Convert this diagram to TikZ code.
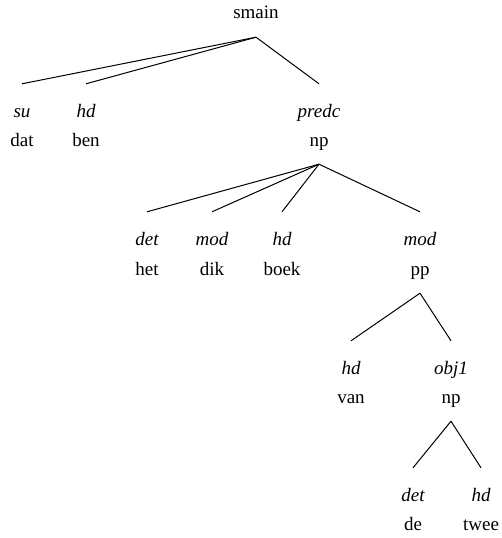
\documentclass[tikz,border=0pt]{standalone}
\usepackage{fontspec}
\setmainfont{Liberation Serif}
\usetikzlibrary{positioning}
\newcommand{\treefont}{\fontsize{19}{22}\selectfont}
\tikzset{
  lab/.style={font=\treefont\itshape, anchor=base, inner sep=0pt,
    text height=33pt, text depth=0pt},
  wrd/.style={font=\treefont, anchor=base, inner sep=0pt,
    text height=10pt, text depth=18pt},
  branch/.style={draw, line width=1pt},
}
\begin{document}
\begin{tikzpicture}[x=1pt, y=-1pt]
  \useasboundingbox (0,0) rectangle (501,538);

  % Root
  \node[wrd] (smain) at (256,19) {smain};

  % First level
  \node[lab] (lsu) at (22,117) {su};
  \node[wrd] (wdat) at (22,146) {dat};
  \node[lab] (lhdA) at (86,117) {hd};
  \node[wrd] (wben) at (86,146) {ben};
  \node[lab] (lpredc) at (319,117) {predc};
  \node[wrd] (wnpA) at (319,146) {np};

  % Second level, below np
  \node[lab] (ldet) at (147,245) {det};
  \node[wrd] (whet) at (147,275) {het};
  \node[lab] (lmodA) at (212,245) {mod};
  \node[wrd] (wdik) at (212,275) {dik};
  \node[lab] (lhdB) at (282,245) {hd};
  \node[wrd] (wboek) at (282,275) {boek};
  \node[lab] (lmodB) at (420,245) {mod};
  \node[wrd] (wpp) at (420,275) {pp};

  % Third level, below pp
  \node[lab] (lhdC) at (351,374) {hd};
  \node[wrd] (wvan) at (351,403) {van};
  \node[lab] (lobj) at (451,374) {obj1};
  \node[wrd] (wnpB) at (451,403) {np};

  % Fourth level, below np
  \node[lab] (ldetB) at (413,501) {det};
  \node[wrd] (wde) at (413,530) {de};
  \node[lab] (lhdD) at (481,501) {hd};
  \node[wrd] (wtwee) at (481,530) {twee};

  % Branches
  \draw[branch] (smain.south) -- (lsu.north);
  \draw[branch] (smain.south) -- (lhdA.north);
  \draw[branch] (smain.south) -- (lpredc.north);

  \draw[branch] (wnpA.south) -- (ldet.north);
  \draw[branch] (wnpA.south) -- (lmodA.north);
  \draw[branch] (wnpA.south) -- (lhdB.north);
  \draw[branch] (wnpA.south) -- (lmodB.north);

  \draw[branch] (wpp.south) -- (lhdC.north);
  \draw[branch] (wpp.south) -- (lobj.north);

  \draw[branch] (wnpB.south) -- (ldetB.north);
  \draw[branch] (wnpB.south) -- (lhdD.north);
\end{tikzpicture}
\end{document}
